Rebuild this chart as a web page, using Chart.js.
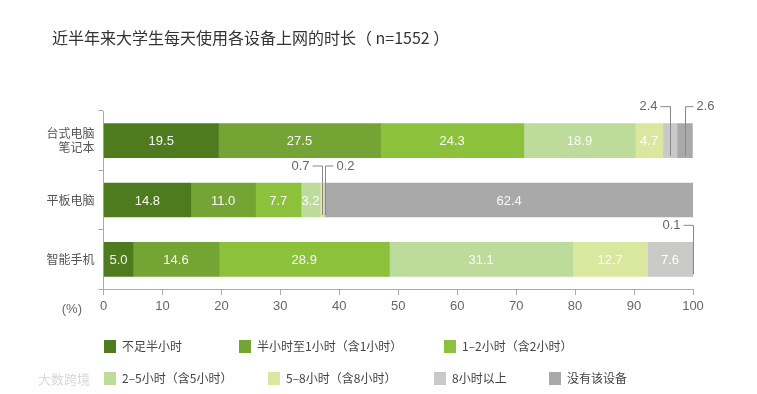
<!DOCTYPE html>
<html>
<head>
<meta charset="utf-8">
<script src="https://cdn.jsdelivr.net/npm/chart.js@4.4.1/dist/chart.umd.min.js"></script>
<style>
  html, body { margin: 0; padding: 0; background: #fff; }
  #wrap { position: relative; width: 757px; height: 394px; overflow: hidden;
          font-family: "Noto Sans CJK SC", "Noto Sans", sans-serif; }
  #title { position: absolute; left: 52px; top: 25px; font-size: 16px; color: #333; }
  #chart { position: absolute; left: 0; top: 0; }
  .lg { position: absolute; font-size: 12px; color: #444; line-height: 14px; white-space: nowrap; }
  .lg i { display: inline-block; width: 12px; height: 13px; vertical-align: -2px; margin-right: 6px; }
  #mark { position: absolute; left: 38px; top: 369px; font-size: 13px; color: #d8d8d8; }
</style>
</head>
<body>
<div id="wrap">
  <canvas id="chart" width="757" height="394"></canvas>
  <div id="title">近半年来大学生每天使用各设备上网的时长（ n=1552 ）</div>
  <div id="legend"></div>
  <div id="mark">大数跨境</div>
</div>
<script>
/* ── Données ── */
const categories = [['台式电脑', '笔记本'], '平板电脑', '智能手机'];
const seriesNames = ['不足半小时', '半小时至1小时（含1小时）', '1–2小时（含2小时）',
  '2–5小时（含5小时）', '5–8小时（含8小时）', '8小时以上', '没有该设备'];
const lessHalfHour = [19.5, 14.8, 5.0];
const halfToOne    = [27.5, 11.0, 14.6];
const oneToTwo     = [24.3, 7.7, 28.9];
const twoToFive    = [18.9, 3.2, 31.1];
const fiveToEight  = [4.7, 0.7, 12.7];
const overEight    = [2.4, 0.2, 7.6];
const noDevice     = [2.6, 62.4, 0.1];
const xTicks = [0, 10, 20, 30, 40, 50, 60, 70, 80, 90, 100];

const seriesValues = [lessHalfHour, halfToOne, oneToTwo, twoToFive, fiveToEight, overEight, noDevice];
const COLORS = ['#4f7b1f', '#74a534', '#8cc13c', '#bddb9b', '#dae79f', '#c9c9c7', '#a9a9a9'];

/* ── Légende (HTML) ── */
const LEGEND_POS = [[104, 339], [239, 339], [444, 339], [104, 371], [268, 371], [434, 371], [549, 371]];
document.getElementById('legend').innerHTML = seriesNames.map((n, i) =>
  `<div class="lg" style="left:${LEGEND_POS[i][0]}px;top:${LEGEND_POS[i][1]}px"><i style="background:${COLORS[i]}"></i>${n}</div>`
).join('');

/* ── Étiquettes des segments ── */
const valueLabels = {
  id: 'valueLabels',
  afterDatasetsDraw(chart) {
    const ctx = chart.ctx;
    ctx.save();
    ctx.font = '13px "Liberation Sans", Arial, sans-serif';
    ctx.textBaseline = 'middle';
    categories.forEach((c, row) => {
      let small = 0;
      chart.data.datasets.forEach((ds, i) => {
        const v = ds.data[row];
        const bar = chart.getDatasetMeta(i).data[row];
        const cx = (bar.x + bar.base) / 2;
        if (v >= 3) {
          ctx.fillStyle = 'rgba(255,255,255,0.95)';
          ctx.textAlign = 'center';
          ctx.fillText(v.toFixed(1), cx, bar.y + 1);
          return;
        }
        const top = bar.y - bar.height / 2;
        const ly = top - 17;
        ctx.strokeStyle = '#888';
        ctx.lineWidth = 1;
        ctx.fillStyle = '#666';
        const x = Math.round(cx) + 0.5;
        ctx.beginPath();
        if (small % 2 === 0) {
          ctx.moveTo(x - 10, ly);
          ctx.lineTo(x, ly);
          ctx.lineTo(x, bar.y + bar.height / 2 - 2);
          ctx.stroke();
          ctx.textAlign = 'right';
          ctx.fillText(v.toFixed(1), x - 13, ly);
        } else {
          ctx.moveTo(x + 8, ly);
          ctx.lineTo(x, ly);
          ctx.lineTo(x, bar.y + bar.height / 2 - 2);
          ctx.stroke();
          ctx.textAlign = 'left';
          ctx.fillText(v.toFixed(1), x + 11, ly);
        }
        small++;
      });
    });
    // unité de l'axe
    ctx.fillStyle = '#666';
    ctx.textAlign = 'right';
    ctx.fillText('(%)', 82, chart.chartArea.bottom + 20);
    ctx.restore();
  }
};

new Chart(document.getElementById('chart'), {
  type: 'bar',
  data: {
    labels: categories,
    datasets: seriesValues.map((vals, i) => ({
      label: seriesNames[i],
      data: vals,
      backgroundColor: COLORS[i],
      barThickness: 34,
      borderWidth: 0,
    }))
  },
  options: {
    indexAxis: 'y',
    responsive: false,
    animation: false,
    layout: { padding: { top: 111, right: 64, left: 0, bottom: 0 } },
    plugins: { legend: { display: false }, tooltip: { enabled: false } },
    scales: {
      x: {
        stacked: true, min: 0, max: 100,
        afterBuildTicks: s => { s.ticks = xTicks.map(v => ({ value: v })); },
        afterFit: s => { s.height = 105; },
        grid: { drawOnChartArea: false, tickLength: 6, color: '#aaa' },
        border: { color: '#aaa' },
        ticks: { color: '#666', padding: 4, font: { size: 13, family: '"Liberation Sans", Arial, sans-serif' } }
      },
      y: {
        stacked: true,
        afterFit: s => { s.width = 103.5; },
        grid: { offset: true, drawOnChartArea: false, tickLength: 5, color: '#aaa' },
        border: { color: '#aaa' },
        ticks: { color: '#555', padding: 4, font: { size: 12, family: '"Noto Sans CJK SC", sans-serif' } }
      }
    }
  },
  plugins: [valueLabels]
});
</script>
</body>
</html>
